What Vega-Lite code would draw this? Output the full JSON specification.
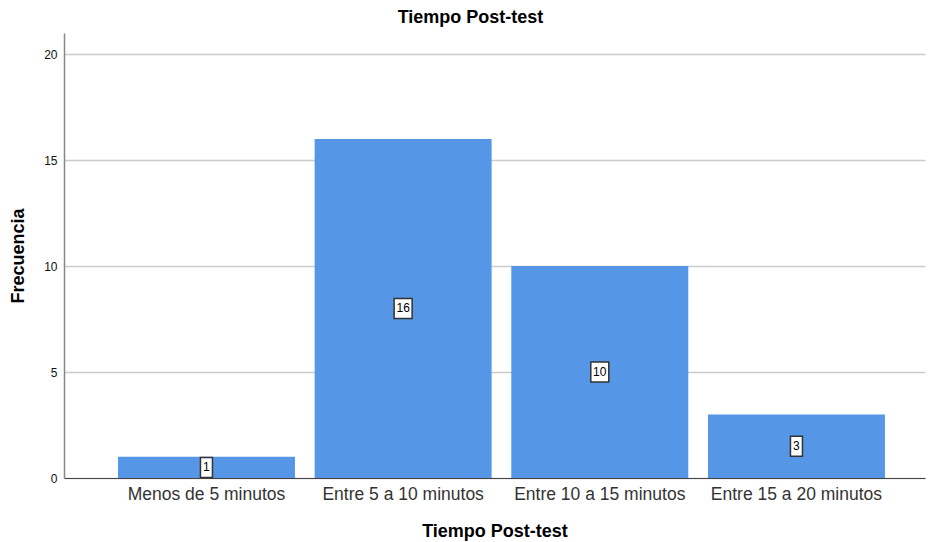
{
  "$schema": "https://vega.github.io/schema/vega-lite/v6.json",
  "autosize": "none",
  "width": 861,
  "height": 445,
  "padding": {"left": 64, "top": 33, "right": 4, "bottom": 64},
  "background": "white",
  "config": {
    "font": "Liberation Sans",
    "view": {"stroke": null}
  },
  "title": {
    "text": "Tiempo Post-test",
    "fontSize": 18,
    "fontWeight": "bold",
    "color": "#000000",
    "anchor": "middle",
    "dx": -24,
    "offset": 6
  },
  "data": {
    "values": [
      {"tiempo": "Menos de 5 minutos", "n": 1},
      {"tiempo": "Entre 5 a 10 minutos", "n": 16},
      {"tiempo": "Entre 10 a 15 minutos", "n": 10},
      {"tiempo": "Entre 15 a 20 minutos", "n": 3}
    ]
  },
  "encoding": {
    "x": {
      "field": "tiempo",
      "type": "nominal",
      "sort": null,
      "scale": {"paddingInner": 0.1, "paddingOuter": 0.239, "align": 0.574},
      "axis": {
        "title": "Tiempo Post-test",
        "titleFontSize": 18,
        "titleFontWeight": "bold",
        "titleColor": "#000000",
        "titlePadding": 20,
        "labelFontSize": 17.5,
        "labelColor": "#333333",
        "labelAngle": 0,
        "labelPadding": 7,
        "ticks": false,
        "domainColor": "#444444",
        "domainWidth": 1
      }
    }
  },
  "layer": [
    {
      "mark": {"type": "bar", "color": "#5596e6"},
      "encoding": {
        "y": {
          "field": "n",
          "type": "quantitative",
          "scale": {"domain": [0, 21], "nice": false},
          "axis": {
            "title": "Frecuencia",
            "titleFontSize": 18,
            "titleFontWeight": "bold",
            "titleColor": "#000000",
            "titlePadding": 16,
            "values": [0, 5, 10, 15, 20],
            "labelFontSize": 12,
            "labelColor": "#111111",
            "labelPadding": 7,
            "ticks": false,
            "domainColor": "#888888",
            "domainWidth": 1.5,
            "grid": true,
            "gridColor": "#cccccc",
            "gridWidth": 1.5
          }
        }
      }
    },
    {
      "transform": [{"calculate": "datum.n / 2", "as": "mitad"}],
      "mark": {"type": "point", "filled": true, "fill": "white", "stroke": "#333333", "strokeWidth": 1.5, "opacity": 1, "size": 400},
      "encoding": {
        "y": {"field": "mitad", "type": "quantitative"},
        "shape": {
          "condition": {"test": "datum.n >= 10", "value": "M-0.9,-1H0.9V1H-0.9Z"},
          "value": "M-0.6,-1H0.6V1H-0.6Z"
        }
      }
    },
    {
      "transform": [{"calculate": "datum.n / 2", "as": "mitad"}],
      "mark": {"type": "text", "fontSize": 12, "color": "#000000", "baseline": "middle", "align": "center"},
      "encoding": {
        "y": {"field": "mitad", "type": "quantitative"},
        "text": {"field": "n", "type": "quantitative"}
      }
    }
  ]
}
